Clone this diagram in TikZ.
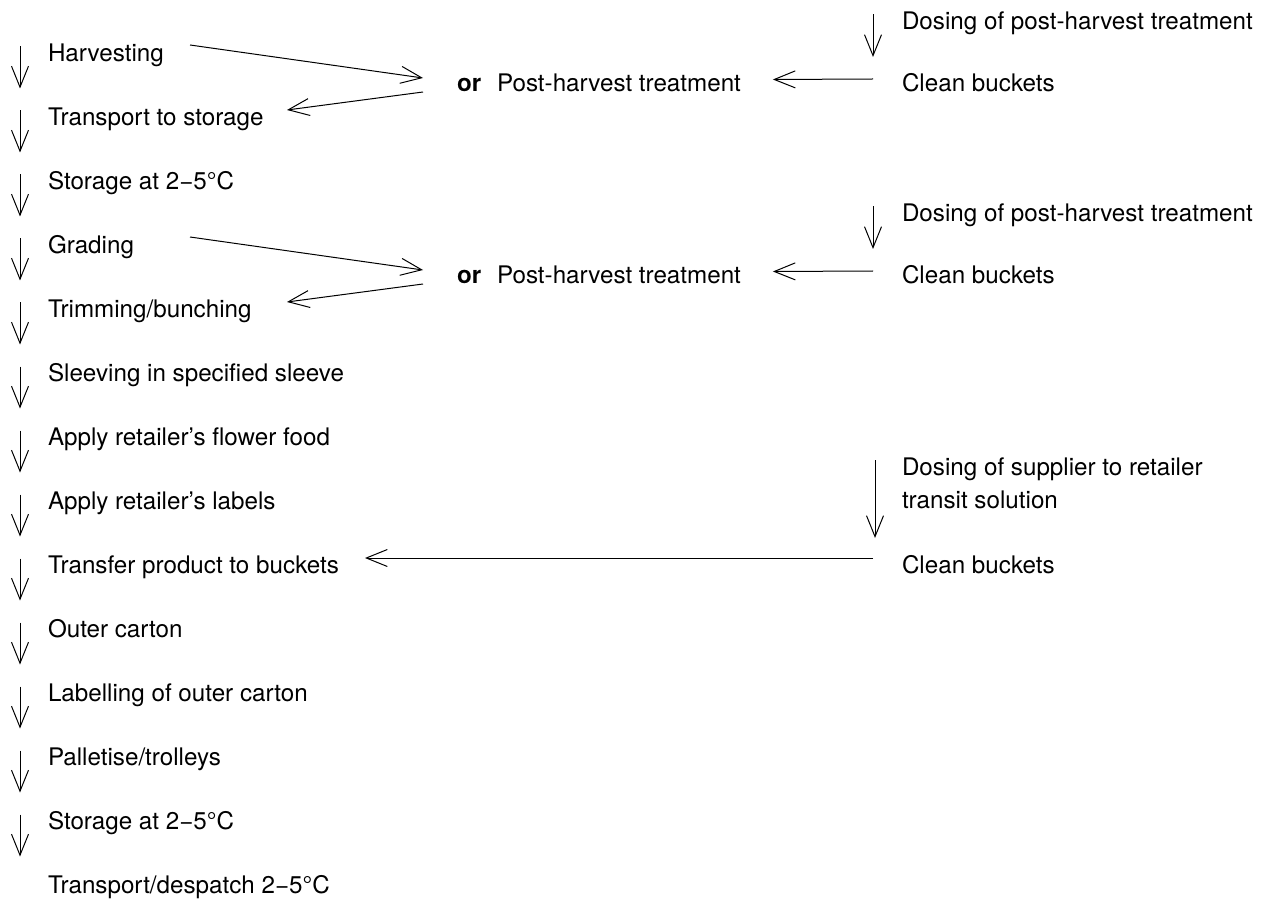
\documentclass[tikz,border=0pt]{standalone}
\usepackage{fontspec}
\setmainfont{TeX Gyre Heros}
\usetikzlibrary{arrows.meta}
\begin{document}
\begin{tikzpicture}[x=0.5pt,y=-0.5pt,
  lbl/.style={inner sep=0pt,outer sep=0pt,anchor=base west,font=\fontsize{12.1}{14}\selectfont},
  arr/.style={-{Straight Barb[length=10.5pt,width=8.5pt]},line width=0.5pt}]
\useasboundingbox (0,0) rectangle (1272,898);
% left column
\foreach \t [count=\i from 0] in {Harvesting,Transport to storage,Storage at 2−5°C,Grading,Trimming/bunching,Sleeving in specified sleeve,Apply retailer’s flower food,Apply retailer’s labels,Transfer product to buckets,Outer carton,Labelling of outer carton,Palletise/trolleys,Storage at 2−5°C,Transport/despatch 2−5°C}
  \node[lbl] (n\i) at (48,61.5+64*\i) {\t};
\foreach \i [evaluate=\i as \j using int(\i+1)] in {0,...,12}
  \draw[arr] ([shift={(-28,-15)}]n\i.base west) -- ([shift={(-28,-37)}]n\j.base west);
% group 1
\node[lbl] (or1) at (457,92) {\textbf{or}};
\node[lbl] (ph1) at (497,92) {Post-harvest treatment};
\node[lbl] (d1) at (902,29.5) {Dosing of post-harvest treatment};
\node[lbl] (c1) at (902,91.5) {Clean buckets};
\draw[arr] ([shift={(-29,-15)}]d1.base west) -- ([shift={(-29,-34.5)}]c1.base west);
\draw[arr] ([shift={(-29,-12.5)}]c1.base west) -- ([shift={(32,-12.5)}]ph1.base east);
\draw[arr] ([shift={(142,-16.5)}]n0.base west) -- ([shift={(-34,-14)}]or1.base west);
\draw[arr] ([shift={(-34,0)}]or1.base west) -- ([shift={(239,-15.5)}]n1.base west);
% group 2
\node[lbl] (or2) at (457,284) {\textbf{or}};
\node[lbl] (ph2) at (497,284) {Post-harvest treatment};
\node[lbl] (d2) at (902,221.5) {Dosing of post-harvest treatment};
\node[lbl] (c2) at (902,283.5) {Clean buckets};
\draw[arr] ([shift={(-29,-15)}]d2.base west) -- ([shift={(-29,-34.5)}]c2.base west);
\draw[arr] ([shift={(-29,-12.5)}]c2.base west) -- ([shift={(32,-12.5)}]ph2.base east);
\draw[arr] ([shift={(142,-16.5)}]n3.base west) -- ([shift={(-34,-14)}]or2.base west);
\draw[arr] ([shift={(-34,0)}]or2.base west) -- ([shift={(239,-15.5)}]n4.base west);
% group 3
\node[lbl] (d3a) at (902,475) {Dosing of supplier to retailer};
\node[lbl] (d3b) at (902,508) {transit solution};
\node[lbl] (c3) at (902,573.5) {Clean buckets};
\draw[arr] ([shift={(-27,-15)}]d3a.base west) -- ([shift={(-27,-35.5)}]c3.base west);
\draw[arr] ([shift={(-29,-15.5)}]c3.base west) -- ([shift={(317,-15.5)}]n8.base west);
\end{tikzpicture}
\end{document}
